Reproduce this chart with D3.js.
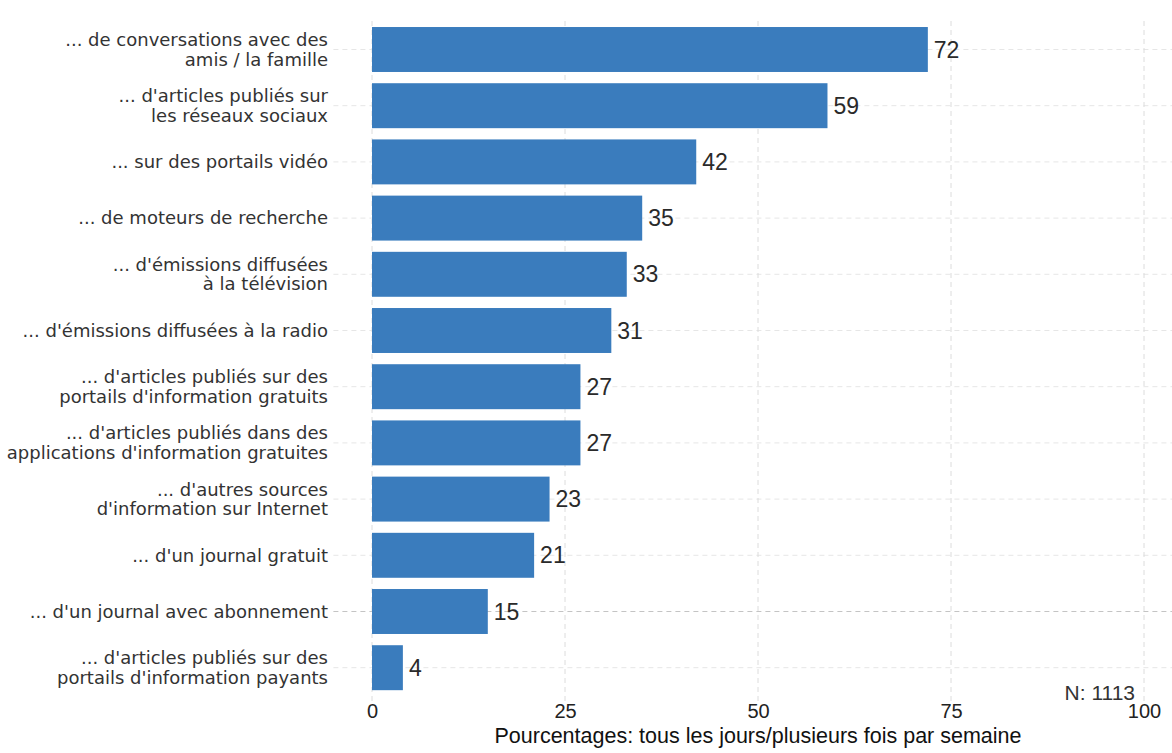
<!DOCTYPE html>
<html>
<head>
<meta charset="utf-8">
<script src="https://cdn.jsdelivr.net/npm/d3@7"></script>
<style>
  html, body { margin: 0; padding: 0; background: #fff; }
  svg { display: block; }
</style>
</head>
<body>
<svg id="chart" width="1172" height="753"></svg>
<script>
const categories = [
  ["... de conversations avec des", "amis / la famille"],
  ["... d'articles publiés sur", "les réseaux sociaux"],
  ["... sur des portails vidéo"],
  ["... de moteurs de recherche"],
  ["... d'émissions diffusées", "à la télévision"],
  ["... d'émissions diffusées à la radio"],
  ["... d'articles publiés sur des", "portails d'information gratuits"],
  ["... d'articles publiés dans des", "applications d'information gratuites"],
  ["... d'autres sources", "d'information sur Internet"],
  ["... d'un journal gratuit"],
  ["... d'un journal avec abonnement"],
  ["... d'articles publiés sur des", "portails d'information payants"]
];
const values = [72, 59, 42, 35, 33, 31, 27, 27, 23, 21, 15, 4];
const xTicks = [0, 25, 50, 75, 100];
const xTitle = "Pourcentages: tous les jours/plusieurs fois par semaine";
const sampleNote = "N: 1113";

const SANS = "'Liberation Sans', Arial, sans-serif";
const WIDE = "'DejaVu Sans', Verdana, sans-serif";

const svg = d3.select("#chart");
const ids = categories.map((c, i) => i);

const x = d3.scaleLinear().domain([-5, 105]).range([333.4, 1182.6]);
const y = d3.scaleBand().domain(ids).range([21.4, 695.8]).paddingInner(0.2).paddingOuter(0.1);

// grid
const grid = svg.append("g");
grid.selectAll("line.h").data(ids).join("line")
  .attr("x1", x(-5)).attr("x2", 1172)
  .attr("y1", d => y(d) + y.bandwidth() / 2).attr("y2", d => y(d) + y.bandwidth() / 2)
  .attr("stroke", d => d === 10 ? "#c4c4c4" : "#e6e6e6")
  .attr("stroke-width", 1).attr("stroke-dasharray", "5,4");
grid.selectAll("line.v").data(xTicks).join("line")
  .attr("x1", d => x(d)).attr("x2", d => x(d))
  .attr("y1", 21).attr("y2", 704)
  .attr("stroke", "#dcdcdc").attr("stroke-width", 1).attr("stroke-dasharray", "5,4");

// bars
svg.append("g").selectAll("rect").data(ids).join("rect")
  .attr("x", x(0)).attr("y", d => y(d))
  .attr("width", d => x(values[d]) - x(0))
  .attr("height", y.bandwidth())
  .attr("fill", "#3a7cbd");

// value labels
svg.append("g").selectAll("text").data(ids).join("text")
  .attr("x", d => x(values[d]) + 6)
  .attr("y", d => y(d) + y.bandwidth() / 2)
  .attr("dy", "0.35em")
  .style("font-family", SANS)
  .style("font-size", "23px")
  .attr("fill", "#2a2a2a")
  .text(d => values[d]);

// category labels
const lab = svg.append("g").selectAll("text").data(ids).join("text")
  .attr("text-anchor", "end")
  .style("font-family", WIDE)
  .style("font-size", "18px")
  .attr("fill", "#333")
  .attr("transform", d => `translate(328,${y(d) + y.bandwidth() / 2})`);
lab.each(function(d) {
  const lines = categories[d];
  const lh = 19.5;
  const t = d3.select(this);
  lines.forEach((ln, i) => {
    t.append("tspan").attr("x", 0)
      .attr("y", (i - (lines.length - 1) / 2) * lh)
      .attr("dy", "0.35em")
      .text(ln);
  });
});

// x axis
const xAxis = d3.axisBottom(x).tickValues(xTicks).tickSize(0).tickPadding(0);
const ax = svg.append("g").attr("transform", "translate(0,703)").call(xAxis);
ax.select(".domain").remove();
ax.selectAll("text")
  .style("font-family", SANS).style("font-size", "20px")
  .attr("fill", "#222").attr("dy", "0.75em");

svg.append("text")
  .attr("x", x(50)).attr("y", 743)
  .attr("text-anchor", "middle")
  .style("font-family", SANS).style("font-size", "21.5px")
  .attr("fill", "#111")
  .text(xTitle);

svg.append("text")
  .attr("x", 1135).attr("y", 700)
  .attr("text-anchor", "end")
  .style("font-family", SANS).style("font-size", "21px")
  .attr("fill", "#333")
  .text(sampleNote);
</script>
</body>
</html>
